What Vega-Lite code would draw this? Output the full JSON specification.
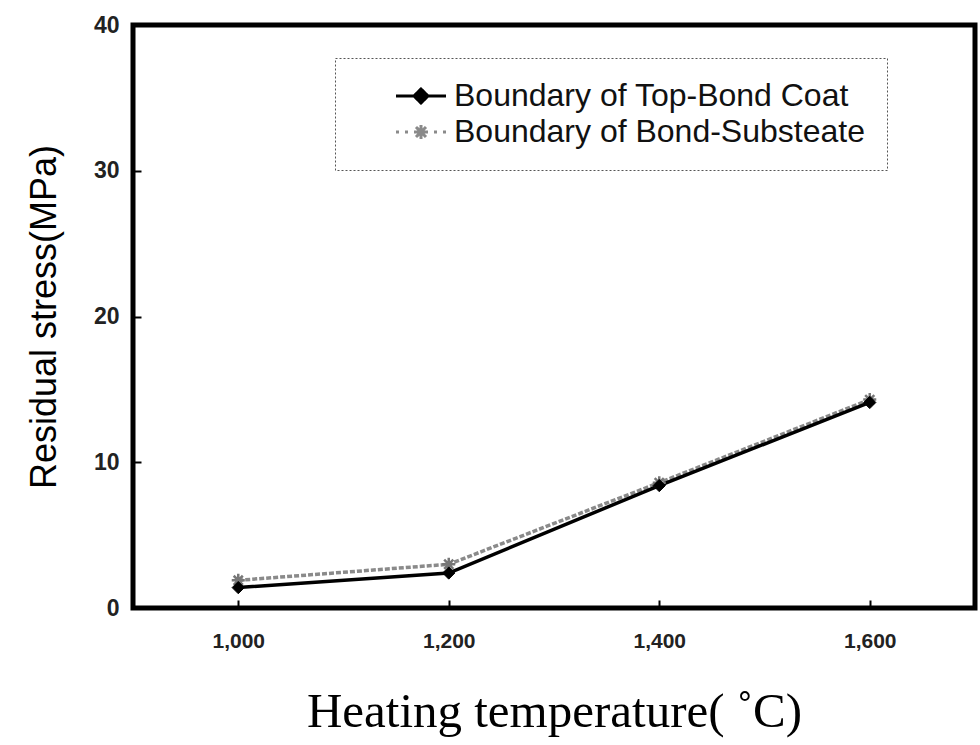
{
  "$schema": "https://vega.github.io/schema/vega-lite/v6.json",
  "width": 842,
  "height": 583,
  "autosize": {"type": "none"},
  "padding": {"left": 133, "top": 25, "right": 5, "bottom": 137},
  "background": "white",
  "config": {
    "view": {"stroke": "black", "strokeWidth": 5},
    "axis": {"domain": false, "grid": false, "tickColor": "black", "tickWidth": 2}
  },
  "data": {
    "values": [
      {"temp": 1000, "stress": 1.9, "series": "Boundary of Bond-Substeate"},
      {"temp": 1200, "stress": 3.0, "series": "Boundary of Bond-Substeate"},
      {"temp": 1400, "stress": 8.6, "series": "Boundary of Bond-Substeate"},
      {"temp": 1600, "stress": 14.3, "series": "Boundary of Bond-Substeate"},
      {"temp": 1000, "stress": 1.4, "series": "Boundary of Top-Bond Coat"},
      {"temp": 1200, "stress": 2.4, "series": "Boundary of Top-Bond Coat"},
      {"temp": 1400, "stress": 8.4, "series": "Boundary of Top-Bond Coat"},
      {"temp": 1600, "stress": 14.1, "series": "Boundary of Top-Bond Coat"}
    ]
  },
  "encoding": {
    "x": {
      "field": "temp",
      "type": "quantitative",
      "scale": {"domain": [900, 1700], "nice": false, "zero": false},
      "axis": {
        "values": [1000, 1200, 1400, 1600],
        "format": ",d",
        "offset": -8,
        "tickSize": 8,
        "labelPadding": 22,
        "labelFont": "Liberation Sans",
        "labelFontWeight": "bold",
        "labelFontSize": 21,
        "labelColor": "#222",
        "title": "Heating temperature( ˚C)",
        "titleFont": "Liberation Serif",
        "titleFontWeight": "normal",
        "titleFontSize": 49,
        "titleColor": "black",
        "titlePadding": 36
      }
    },
    "y": {
      "field": "stress",
      "type": "quantitative",
      "scale": {"domain": [0, 40], "nice": false},
      "axis": {
        "values": [0, 10, 20, 30, 40],
        "offset": -8,
        "tickSize": 8,
        "labelPadding": 14,
        "labelFont": "Liberation Sans",
        "labelFontWeight": "bold",
        "labelFontSize": 23,
        "labelColor": "#222",
        "title": "Residual stress(MPa)",
        "titleFont": "Liberation Sans",
        "titleFontWeight": "normal",
        "titleFontSize": 36,
        "titleColor": "black",
        "titlePadding": 30
      }
    }
  },
  "layer": [
    {
      "transform": [{"filter": "datum.series === 'Boundary of Bond-Substeate'"}],
      "mark": {"type": "line", "strokeWidth": 3.5, "strokeDash": [5, 2]},
      "encoding": {
        "color": {
          "field": "series",
          "type": "nominal",
          "scale": {"domain": ["Boundary of Top-Bond Coat", "Boundary of Bond-Substeate"], "range": ["#000000", "#8a8a8a"]},
          "legend": {
            "orient": "none",
            "legendX": 202,
            "legendY": 33,
            "title": "\u00a0\u00a0\u00a0\u00a0\u00a0\u00a0\u00a0\u00a0",
            "titleOrient": "right",
            "titleFontSize": 20,
            "titlePadding": 0,
            "labelFont": "Liberation Sans",
            "labelFontSize": 32,
            "labelColor": "#111",
            "labelLimit": 700,
            "labelOffset": 17,
            "padding": 22,
            "rowPadding": 4,
            "symbolSize": 400,
            "symbolStrokeWidth": 3,
            "symbolOffset": 48,
            "strokeColor": "#555",
            "fillColor": "white",
            "encode": {
              "legend": {"update": {"strokeDash": {"value": [2, 2]}}},
              "symbols": {
                "update": {
                  "shape": {"signal": "datum.value === 'Boundary of Top-Bond Coat' ? 'M-2.5,0L2.5,0M0,-0.7L0.7,0L0,0.7L-0.7,0Z' : 'M-2.5,0L-2.2,0M-1.6,0L-1.3,0M1.3,0L1.6,0M2.2,0L2.5,0M-0.7,0L0.7,0M0,-0.7L0,0.7M-0.5,-0.5L0.5,0.5M-0.5,0.5L0.5,-0.5'"},
                  "fill": {"signal": "datum.value === 'Boundary of Top-Bond Coat' ? 'black' : 'transparent'"},
                  "stroke": {"signal": "datum.value === 'Boundary of Top-Bond Coat' ? 'black' : '#7a7a7a'"},
                  "strokeWidth": {"value": 3},
                  "strokeDash": {"value": [1, 0]},
                  "fillOpacity": {"value": 1},
                  "opacity": {"value": 1}
                }
              }
            }
          }
        }
      }
    },
    {
      "transform": [{"filter": "datum.series === 'Boundary of Top-Bond Coat'"}],
      "mark": {"type": "line", "strokeWidth": 3.5},
      "encoding": {
        "color": {"field": "series", "type": "nominal"}
      }
    },
    {
      "transform": [{"filter": "datum.series === 'Boundary of Bond-Substeate'"}],
      "mark": {"type": "point", "filled": false, "stroke": "#777777", "strokeWidth": 2.5, "opacity": 1, "size": 170, "shape": "M-1,0L1,0M0,-1L0,1M-0.7,-0.7L0.7,0.7M-0.7,0.7L0.7,-0.7"},
      "encoding": {}
    },
    {
      "transform": [{"filter": "datum.series === 'Boundary of Top-Bond Coat'"}],
      "mark": {"type": "point", "filled": true, "fill": "black", "stroke": "black", "strokeWidth": 1, "opacity": 1, "size": 150, "shape": "diamond"},
      "encoding": {}
    }
  ]
}
